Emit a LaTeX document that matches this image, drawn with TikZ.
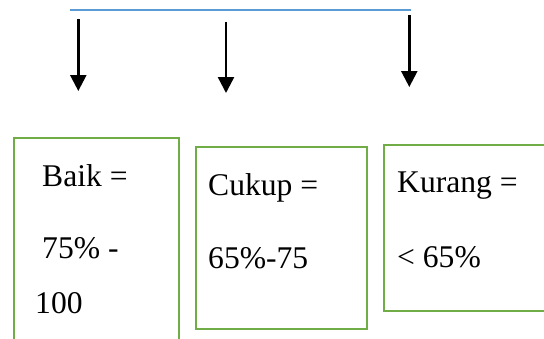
\documentclass[tikz,border=0pt]{standalone}
\usepackage{fontspec}
\setmainfont{Liberation Serif}
\usetikzlibrary{arrows.meta}
\definecolor{boxgreen}{RGB}{112,173,71}
\definecolor{lineblue}{RGB}{91,155,213}
\tikzset{
  catbox/.style={draw=boxgreen, line width=2.4pt, rectangle, inner sep=0pt, anchor=north west},
  label/.style={anchor=base west, inner sep=0pt, font=\fontsize{31.6}{38}\selectfont},
  downarrow/.style={line width=2.4pt, -{Triangle[width=16pt,length=16pt]}},
}
\begin{document}
\begin{tikzpicture}[x=1pt,y=-1pt]
\useasboundingbox (0,0) rectangle (544,338);
\clip (0,0) rectangle (544,338);

% top bar
\coordinate (barL) at (70,10);
\coordinate (barR) at (411,10);
\draw[lineblue, line width=1.5pt] (barL) -- (barR);

% arrows pointing down to the three categories
\coordinate (a1s) at (78.3,19);  \coordinate (a1e) at (78.3,91);
\coordinate (a2s) at (226,22);   \coordinate (a2e) at (226,93);
\coordinate (a3s) at (409.3,15); \coordinate (a3e) at (409.3,87);
\draw[downarrow] (a1s) -- (a1e);
\draw[downarrow] (a2s) -- (a2e);
\draw[downarrow] (a3s) -- (a3e);

% category boxes
\node[catbox, minimum width=165pt, minimum height=215pt] (baik) at (13,137) {};
\node[catbox, minimum width=171pt, minimum height=182pt] (cukup) at (195,146) {};
\node[catbox, minimum width=170pt, minimum height=166pt] (kurang) at (383,144) {};

% labels
\node[label] (t1a) at (42,186) {Baik =};
\node[label] (t1b) at (42,258) {75\% -};
\node[label] (t1c) at (35,313) {100};
\node[label] (t2a) at (208,195) {Cukup =};
\node[label] (t2b) at (208,268) {65\%-75};
\node[label] (t3a) at (397,192) {Kurang =};
\node[label] (t3b) at (397,267) {< 65\%};
\end{tikzpicture}
\end{document}
